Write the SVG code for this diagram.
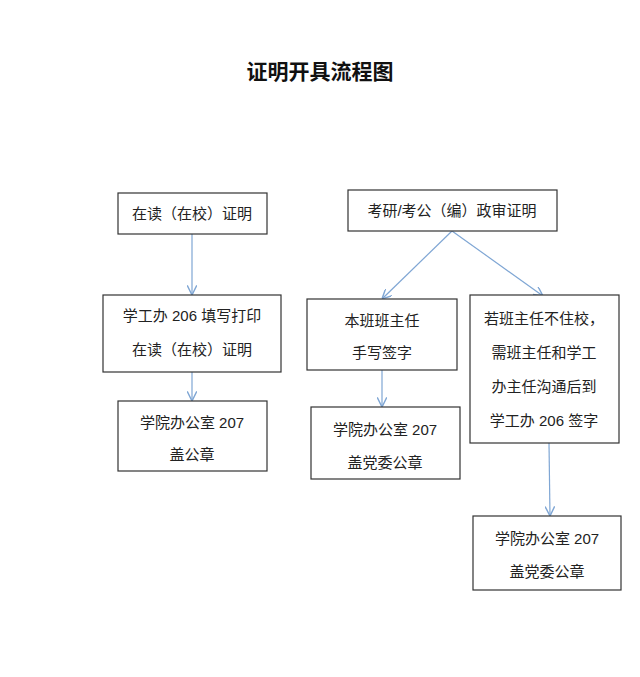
<svg xmlns="http://www.w3.org/2000/svg" width="640" height="677" viewBox="0 0 640 677">
<defs>
<style>
.b{fill:#fff;stroke:#333;stroke-width:1.2}
.t{font-family:"Liberation Sans","Noto Sans CJK SC",sans-serif;font-size:15px;fill:#222;text-anchor:middle}
.c{stroke:#7fa6d4;stroke-width:1.2;fill:none;marker-end:url(#a)}
</style>
<marker id="a" viewBox="0 0 10 10" refX="10" refY="5" markerWidth="8" markerHeight="8" orient="auto"><path d="M0,0L10,5L0,10" fill="none" stroke="#7fa6d4" stroke-width="1.5"/></marker>
</defs>
<rect width="640" height="677" fill="#fff"/>
<text x="320" y="79" style="font-family:'Noto Sans CJK SC',sans-serif;font-size:21px;font-weight:bold;text-anchor:middle;fill:#111">证明开具流程图</text>
<g id="connectors">
<line class="c" x1="192" y1="234" x2="192" y2="295"/>
<line class="c" x1="192" y1="372" x2="192" y2="401"/>
<line class="c" x1="452" y1="231" x2="382" y2="299"/>
<line class="c" x1="452" y1="231" x2="543" y2="296"/>
<line class="c" x1="382" y1="370" x2="382" y2="407"/>
<line class="c" x1="549" y1="443" x2="550" y2="516"/>
</g>
<g id="n1"><rect class="b" x="118" y="193" width="149" height="41"/><text class="t" x="192" y="219">在读（在校）证明</text></g>
<g id="n2"><rect class="b" x="348" y="190" width="209" height="41"/><text class="t" x="452" y="216">考研/考公（编）政审证明</text></g>
<g id="n3"><rect class="b" x="103" y="295" width="178" height="77"/><text class="t" x="192" y="321">学工办 206 填写打印</text><text class="t" x="192" y="355">在读（在校）证明</text></g>
<g id="n4"><rect class="b" x="307" y="299" width="150" height="71"/><text class="t" x="382" y="326">本班班主任</text><text class="t" x="382" y="358">手写签字</text></g>
<g id="n5"><rect class="b" x="470" y="295" width="149" height="148"/><text class="t" x="544" y="324">若班主任不住校，</text><text class="t" x="544" y="358">需班主任和学工</text><text class="t" x="544" y="392">办主任沟通后到</text><text class="t" x="544" y="426">学工办 206 签字</text></g>
<g id="n6"><rect class="b" x="118" y="401" width="149" height="70"/><text class="t" x="192" y="428">学院办公室 207</text><text class="t" x="192" y="460">盖公章</text></g>
<g id="n7"><rect class="b" x="311" y="407" width="149" height="72"/><text class="t" x="385" y="435">学院办公室 207</text><text class="t" x="385" y="468">盖党委公章</text></g>
<g id="n8"><rect class="b" x="473" y="516" width="148" height="74"/><text class="t" x="547" y="544">学院办公室 207</text><text class="t" x="547" y="577">盖党委公章</text></g>
</svg>
